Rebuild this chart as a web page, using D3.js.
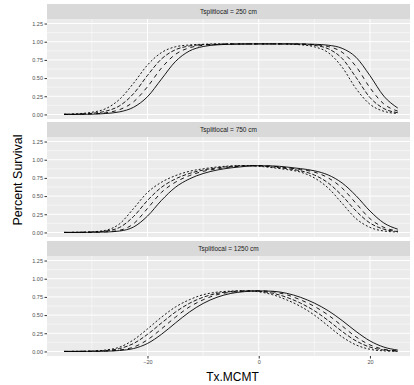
<!DOCTYPE html>
<html><head><meta charset="utf-8">
<script src="https://cdn.jsdelivr.net/npm/d3@7"></script>
<style>body{margin:0;background:#fff}svg text{font-family:"Liberation Sans",Arial,sans-serif}</style>
</head><body>
<script>
// ---- data ----
const txMCMT = [-35,-32.5,-30,-27.5,-25,-22.5,-20,-17.5,-15,-12.5,-10,-7.5,-5,-2.5,0,2.5,5,7.5,10,12.5,15,17.5,20,22.5,25];
const panelLabels = ["Tsplitlocal = 250 cm","Tsplitlocal = 750 cm","Tsplitlocal = 1250 cm"];
const xTicks = [-20,0,20];
const yTicks = [0,0.25,0.5,0.75,1,1.25];
const yTickLabels = ["0.00","0.25","0.50","0.75","1.00","1.25"];
const seriesNames = ["A","B","C","D"];

const s250_A = [0.003,0.010,0.030,0.080,0.210,0.430,0.680,0.850,0.930,0.955,0.965,0.970,0.970,0.970,0.970,0.970,0.967,0.958,0.930,0.850,0.650,0.355,0.140,0.044,0.013];
const s250_B = [0.002,0.005,0.016,0.045,0.120,0.286,0.537,0.762,0.889,0.941,0.960,0.966,0.970,0.970,0.970,0.970,0.970,0.964,0.950,0.903,0.770,0.509,0.233,0.081,0.024];
const s250_C = [0.001,0.003,0.008,0.023,0.067,0.174,0.381,0.637,0.825,0.916,0.951,0.963,0.968,0.970,0.970,0.970,0.970,0.970,0.959,0.934,0.855,0.659,0.367,0.144,0.046];
const s250_D = [0.0005,0.0015,0.004,0.013,0.036,0.099,0.244,0.485,0.726,0.871,0.934,0.957,0.965,0.968,0.970,0.970,0.970,0.970,0.965,0.952,0.909,0.786,0.534,0.251,0.088];

const s750_A = [0.001,0.003,0.009,0.030,0.120,0.330,0.550,0.690,0.780,0.840,0.875,0.900,0.915,0.920,0.910,0.890,0.865,0.830,0.750,0.610,0.400,0.190,0.070,0.020,0.006];
const s750_B = [0.0005,0.002,0.006,0.020,0.070,0.220,0.440,0.620,0.735,0.810,0.858,0.888,0.908,0.918,0.915,0.900,0.878,0.848,0.790,0.680,0.505,0.295,0.130,0.045,0.013];
const s750_C = [0.000,0.001,0.003,0.009,0.030,0.120,0.330,0.550,0.690,0.780,0.840,0.875,0.900,0.915,0.920,0.910,0.890,0.865,0.830,0.750,0.610,0.400,0.190,0.070,0.020];
const s750_D = [0.000,0.0005,0.002,0.006,0.020,0.075,0.225,0.440,0.620,0.735,0.810,0.858,0.888,0.908,0.918,0.915,0.900,0.878,0.848,0.790,0.680,0.505,0.295,0.130,0.045];

const s1250_A = [0.001,0.002,0.006,0.020,0.060,0.160,0.310,0.470,0.610,0.710,0.780,0.815,0.830,0.835,0.820,0.780,0.710,0.620,0.500,0.350,0.200,0.090,0.030,0.008,0.002];
const s1250_B = [0.0005,0.0015,0.004,0.013,0.040,0.110,0.235,0.390,0.540,0.660,0.745,0.798,0.823,0.833,0.828,0.800,0.745,0.665,0.560,0.425,0.275,0.145,0.060,0.019,0.005];
const s1250_C = [0.000,0.001,0.002,0.006,0.020,0.060,0.160,0.310,0.470,0.610,0.710,0.780,0.815,0.830,0.835,0.820,0.780,0.710,0.620,0.500,0.350,0.200,0.090,0.030,0.008];
const s1250_D = [0.000,0.0005,0.0015,0.004,0.013,0.040,0.110,0.235,0.390,0.540,0.660,0.745,0.798,0.823,0.833,0.828,0.800,0.745,0.665,0.560,0.425,0.275,0.145,0.060,0.019];

const panelSeries = [
  [s250_A,s250_B,s250_C,s250_D],
  [s750_A,s750_B,s750_C,s750_D],
  [s1250_A,s1250_B,s1250_C,s1250_D]
];

// ---- layout ----
const W = 414, H = 385;
const left = 47, right = 410;
const panelTops = [19, 137, 256];
const panelH = 100, stripH = 15;
const dash = {A:"2,2", B:"4,2", C:"4,4", D:null};

const svg = d3.select("body").append("svg").attr("width", W).attr("height", H);

const x = d3.scaleLinear().domain([-38.07, 27.2]).range([left, right]);
const xMinor = [-30,-10,10];
const yMinor = [0.125,0.375,0.625,0.875,1.125];

panelSeries.forEach((series, pi) => {
  const top = panelTops[pi];
  const y = d3.scaleLinear().domain([-0.0625, 1.3125]).range([top + panelH, top]);
  const g = svg.append("g");
  g.append("rect").attr("x", left).attr("y", top - stripH).attr("width", right - left).attr("height", stripH).attr("fill", "#D9D9D9");
  g.append("text").attr("x", (left + right) / 2).attr("y", top - stripH / 2).attr("dy", "0.35em")
    .attr("text-anchor", "middle").attr("font-size", 6.5).attr("fill", "#1A1A1A").text(panelLabels[pi]);
  g.append("rect").attr("x", left).attr("y", top).attr("width", right - left).attr("height", panelH).attr("fill", "#EBEBEB");
  g.selectAll(".ymin").data(yMinor).join("line").attr("x1", left).attr("x2", right)
    .attr("y1", d => y(d)).attr("y2", d => y(d)).attr("stroke", "#fff").attr("stroke-width", 0.5);
  g.selectAll(".xmin").data(xMinor).join("line").attr("y1", top).attr("y2", top + panelH)
    .attr("x1", d => x(d)).attr("x2", d => x(d)).attr("stroke", "#fff").attr("stroke-width", 0.5);
  g.selectAll(".ymaj").data(yTicks).join("line").attr("x1", left).attr("x2", right)
    .attr("y1", d => y(d)).attr("y2", d => y(d)).attr("stroke", "#fff").attr("stroke-width", 1);
  g.selectAll(".xmaj").data(xTicks).join("line").attr("y1", top).attr("y2", top + panelH)
    .attr("x1", d => x(d)).attr("x2", d => x(d)).attr("stroke", "#fff").attr("stroke-width", 1);
  const yAxis = d3.axisLeft(y).tickValues(yTicks).tickSize(2.5).tickPadding(1.5)
    .tickFormat((d, i) => yTickLabels[i]);
  const ya = g.append("g").attr("transform", `translate(${left},0)`).call(yAxis);
  ya.select(".domain").remove();
  ya.selectAll("line").attr("stroke", "#333");
  ya.selectAll("text").attr("font-size", 5.5).attr("fill", "#4D4D4D").attr("font-family", "Liberation Sans, Arial, sans-serif");
  const line = d3.line().x((d, i) => x(txMCMT[i])).y(d => y(d)).curve(d3.curveMonotoneX);
  series.forEach((vals, si) => {
    g.append("path").datum(vals).attr("d", line).attr("fill", "none")
      .attr("stroke", "#000").attr("stroke-width", 0.9)
      .attr("stroke-dasharray", dash[seriesNames[si]]);
  });
  if (pi === 2) {
    const xAxis = d3.axisBottom(x).tickValues(xTicks).tickSize(2.5).tickPadding(1.5);
    const xa = g.append("g").attr("transform", `translate(0,${top + panelH})`).call(xAxis);
    xa.select(".domain").remove();
    xa.selectAll("line").attr("stroke", "#333");
    xa.selectAll("text").attr("font-size", 5.5).attr("fill", "#4D4D4D").attr("font-family", "Liberation Sans, Arial, sans-serif");
  }
});

svg.append("text").attr("x", (left + right) / 2 + 4).attr("y", 381).attr("text-anchor", "middle")
  .attr("font-size", 12).attr("fill", "#000").text("Tx.MCMT");
svg.append("text").attr("transform", `translate(22,${(panelTops[0] - stripH + panelTops[2] + panelH) / 2}) rotate(-90)`)
  .attr("text-anchor", "middle").attr("font-size", 12.5).attr("fill", "#000").text("Percent Survival");
</script>
</body></html>
